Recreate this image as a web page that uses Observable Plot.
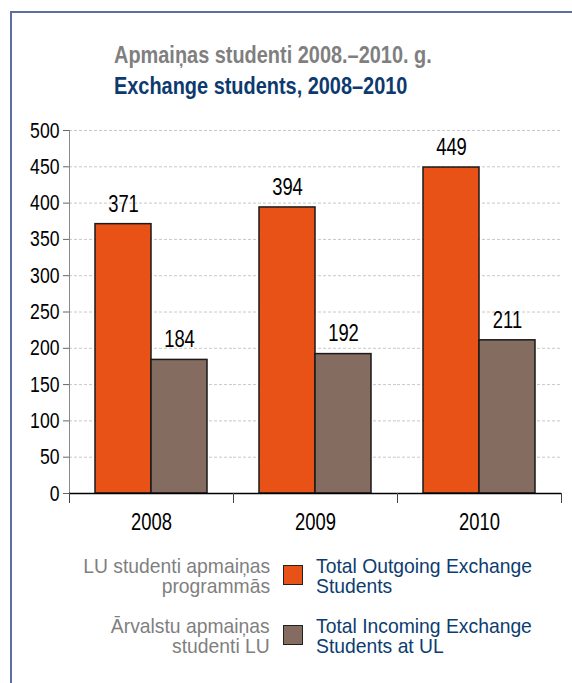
<!DOCTYPE html>
<html>
<head>
<meta charset="utf-8">
<script src="https://cdn.jsdelivr.net/npm/d3@7"></script>
<script src="https://cdn.jsdelivr.net/npm/@observablehq/plot@0.6"></script>
<style>
  html, body { margin: 0; padding: 0; background: #fff; }
  body { width: 572px; height: 683px; position: relative; overflow: hidden;
         font-family: "Liberation Sans", Arial, sans-serif; }
  #frame { position: absolute; left: 10px; top: 11px; width: 600px; height: 700px;
           border-left: 2px solid #5b6fa3; border-top: 2px solid #5b6fa3; }
  .t1, .t2 { position: absolute; left: 114px; font-weight: bold; font-size: 24px; white-space: nowrap; line-height: 1;
             transform: scaleX(0.83); transform-origin: left center; }
  .t1 { top: 43px; color: #7f7f7f; }
  .t2 { top: 74px; color: #0d3a6e; }
  #chart { position: absolute; left: 0; top: 110px; }
  .lg { position: absolute; font-size: 21px; line-height: 20px; white-space: nowrap; }
  .lgl { color: #7f7f7f; text-align: right; right: 302px; transform: scaleX(0.92); transform-origin: right center; }
  .lgr { color: #0d3d70; left: 316px; transform: scaleX(0.92); transform-origin: left center; }
  .sw { position: absolute; left: 283px; width: 18px; height: 18px; border: 1px solid #222; }
</style>
</head>
<body>
<div id="frame"></div>
<div class="t1">Apmaiņas studenti 2008.–2010. g.</div>
<div class="t2">Exchange students, 2008–2010</div>
<div id="chart"></div>
<div id="legend"></div>
<script>
const years = ["2008", "2009", "2010"];
const seriesKeys = ["Outgoing", "Incoming"];
const outgoing = [371, 394, 449];
const incoming = [184, 192, 211];
const colors = ["#e85216", "#856c60"];
const yTicks = [0, 50, 100, 150, 200, 250, 300, 350, 400, 450, 500];
const legendLv = ["LU studenti apmaiņas<br>programmās", "Ārvalstu apmaiņas<br>studenti LU"];
const legendEn = ["Total Outgoing Exchange<br>Students", "Total Incoming Exchange<br>Students at UL"];

const data = [];
years.forEach((y, i) => {
  data.push({year: y, series: seriesKeys[0], value: outgoing[i]});
  data.push({year: y, series: seriesKeys[1], value: incoming[i]});
});

const FONT = '"Liberation Sans", Arial, sans-serif';
const H = 440, MT = 20, MB = 57;
const innerH = H - MT - MB;

const chart = Plot.plot({
  width: 572,
  height: H,
  marginTop: MT,
  marginBottom: MB,
  marginLeft: 68,
  marginRight: 10,
  style: {fontFamily: FONT, color: "#000", background: "transparent"},
  fx: {domain: years, padding: 0, label: null},
  x: {domain: seriesKeys, paddingInner: 0, paddingOuter: 0.447, axis: null},
  y: {domain: [0, 500], label: null},
  color: {domain: seriesKeys, range: colors},
  marks: [
    Plot.gridY(yTicks, {stroke: "#c8c8c8", strokeOpacity: 1, strokeDasharray: "3,2"}),
    Plot.frame({anchor: "left", facet: "super", stroke: "#888"}),
    Plot.axisY(yTicks, {tickSize: 6, tickPadding: 4, fontSize: 22, stroke: "#666", label: null}),
    Plot.barY(data, {fx: "year", x: "series", y: "value", fill: "series", stroke: "#1a1a1a", strokeWidth: 1.5}),
    Plot.ruleY([0], {stroke: "#000", strokeWidth: 1.5}),
    Plot.frame({anchor: "left", insetTop: innerH, insetBottom: -9, stroke: "#444"}),
    Plot.frame({anchor: "right", insetTop: innerH, insetBottom: -9, stroke: "#444"}),
    Plot.axisFx({anchor: "bottom", tickSize: 0, tickPadding: 20, fontSize: 23, label: null}),
    Plot.text(data, {fx: "year", x: "series", y: "value", text: d => String(d.value), dy: -20, fontSize: 23, fill: "#000"})
  ]
});
document.getElementById("chart").appendChild(chart);

// narrow the glyphs to match the condensed typeface of the original
chart.querySelectorAll("text").forEach(t => {
  const len = t.getComputedTextLength();
  if (len > 0) {
    t.setAttribute("textLength", (len * 0.8).toFixed(2));
    t.setAttribute("lengthAdjust", "spacingAndGlyphs");
  }
});

const lg = document.getElementById("legend");
const tops = [556, 616];
legendLv.forEach((t, i) => {
  const l = document.createElement("div");
  l.className = "lg lgl"; l.style.top = tops[i] + "px"; l.innerHTML = t; lg.appendChild(l);
  const s = document.createElement("div");
  s.className = "sw"; s.style.top = (tops[i] + 9) + "px"; s.style.background = colors[i]; lg.appendChild(s);
  const r = document.createElement("div");
  r.className = "lg lgr"; r.style.top = tops[i] + "px"; r.innerHTML = legendEn[i]; lg.appendChild(r);
});
</script>
</body>
</html>
